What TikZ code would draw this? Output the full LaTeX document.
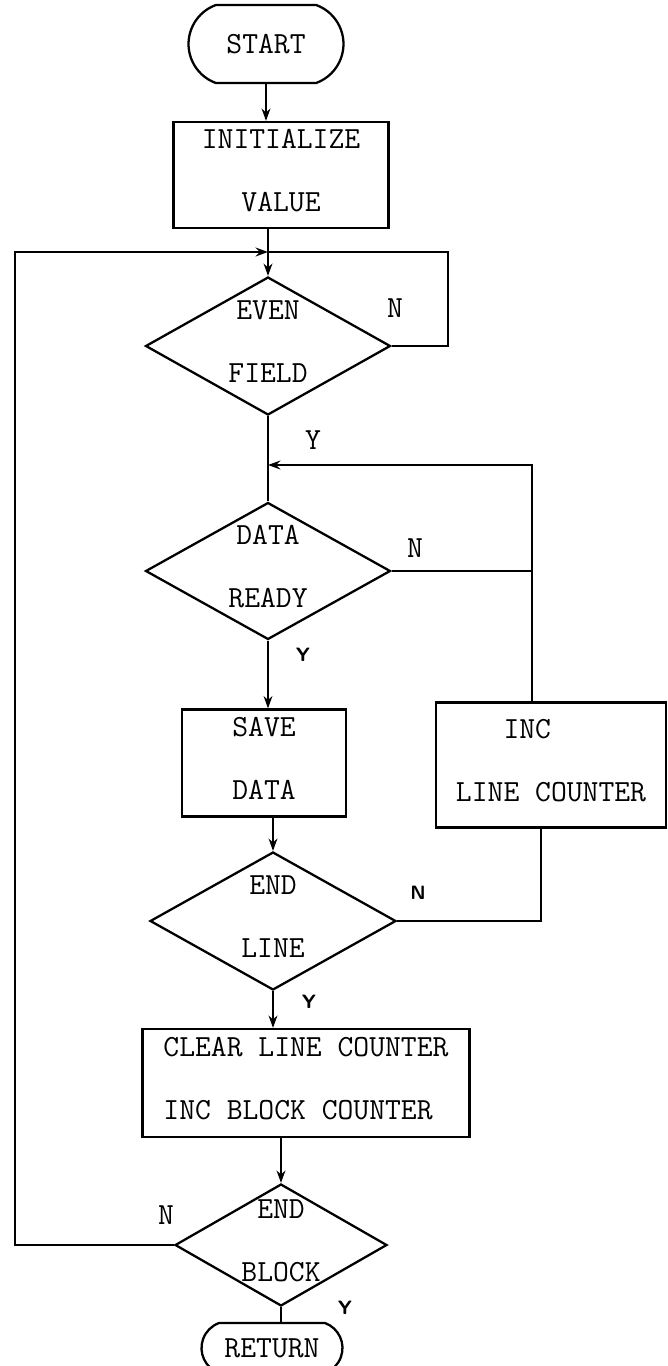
\documentclass[tikz,border=0pt]{standalone}
\usepackage{fontspec}
\usepackage{tikz}
\usetikzlibrary{arrows.meta,shapes.geometric,shapes.misc}
\newcommand{\twolines}[3][c]{\smash{\makebox[0pt]{\begin{tabular}{@{}#1@{}}#2\\#3\end{tabular}}}}

\begin{document}
\begin{tikzpicture}[x=0.02cm, y=-0.02cm, line width=1.3pt,
    >={Stealth[length=7pt,width=5pt]},
    every node/.style={font=\fontsize{17.5}{36}\selectfont\ttfamily},
    term/.style={draw, rounded rectangle, rounded rectangle arc length=140, inner sep=0pt},
    proc/.style={draw, rectangle, inner sep=0pt},
    decision/.style={draw, diamond, inner sep=0pt},
    yn/.style={inner sep=0pt},
    ynsf/.style={inner sep=0pt, font=\fontsize{11}{13}\selectfont\sffamily\bfseries}]
        \useasboundingbox (0,0) rectangle (668,1366);
        % Main column
        \node[term, minimum width=3.1cm, minimum height=1.56cm] (start) at (266,44) {START};
        \node[proc, minimum width=4.3cm, minimum height=2.12cm] (init) at (281,175) {\twolines{INITIALIZE}{VALUE}};
        \coordinate (top) at (268,252);
        \node[decision, minimum width=4.9cm, minimum height=2.76cm] (even) at (268,346) {\twolines{EVEN}{FIELD}};
        \coordinate (mid) at (268,465);
        \node[decision, minimum width=4.9cm, minimum height=2.74cm] (ready) at (268,571) {\twolines{DATA}{READY}};
        \node[proc, minimum width=3.28cm, minimum height=2.14cm] (save) at (264,763) {\twolines{SAVE}{DATA}};
        \node[proc, minimum width=4.6cm, minimum height=2.5cm] (inc) at (551,765) {\twolines{INC\phantom{XXX}}{LINE COUNTER}};
        \node[decision, minimum width=4.92cm, minimum height=2.76cm] (endline) at (273,921) {\twolines{END}{LINE}};
        \node[proc, minimum width=6.54cm, minimum height=2.16cm] (clear) at (306,1083) {\twolines[l]{CLEAR LINE COUNTER}{INC BLOCK COUNTER}};
        \node[decision, minimum width=4.24cm, minimum height=2.44cm] (endblock) at (281,1245) {\twolines{END}{BLOCK}};
        \node[term, minimum width=2.82cm, minimum height=1cm] (ret) at (272,1348) {RETURN};
        % Corners of the loops
        \coordinate (evenr) at (448,252);
        \coordinate (leftc) at (15,252);
        \coordinate (incup) at (532,460);
        \coordinate (incdn) at (541,0);
        % Forward flow
        \draw[->] (start.south) -- (start.south |- init.north);
        \draw (top |- init.south) -- (top);
        \draw[->] (top) -- (even.north);
        \draw (even.south) -- (mid) -- (ready.north);
        \draw[->] (ready.south) -- (ready.south |- save.north);
        \draw[->] (endline.north |- save.south) -- (endline.north);
        \draw[->] (endline.south) -- (endline.south |- clear.north);
        \draw[->] (endblock.north |- clear.south) -- (endblock.north);
        \draw (endblock.south) -- (endblock.south |- ret.north);
        % Loops back
        \draw (even.east) -| (evenr) -- (top);
        \draw (ready.east) -- (ready.east -| incup);
        \draw[->] (incup |- inc.north) |- (mid);
        \draw (endline.east) -| (incdn |- inc.south);
        \draw[->] (endblock.west) -| (leftc) -- (top);
        % Y / N marks
        \node[yn] (n1) at (395,308) {N};
        \node[yn] (y1) at (313,440) {Y};
        \node[yn] (n2) at (415,548) {N};
        \node[ynsf] (y2) at (303,655) {Y};
        \node[ynsf] (n3) at (418,893) {N};
        \node[ynsf] (y3) at (309,1002) {Y};
        \node[yn] (n4) at (166,1215) {N};
        \node[ynsf] (y4) at (345,1308) {Y};
\end{tikzpicture}
\end{document}
